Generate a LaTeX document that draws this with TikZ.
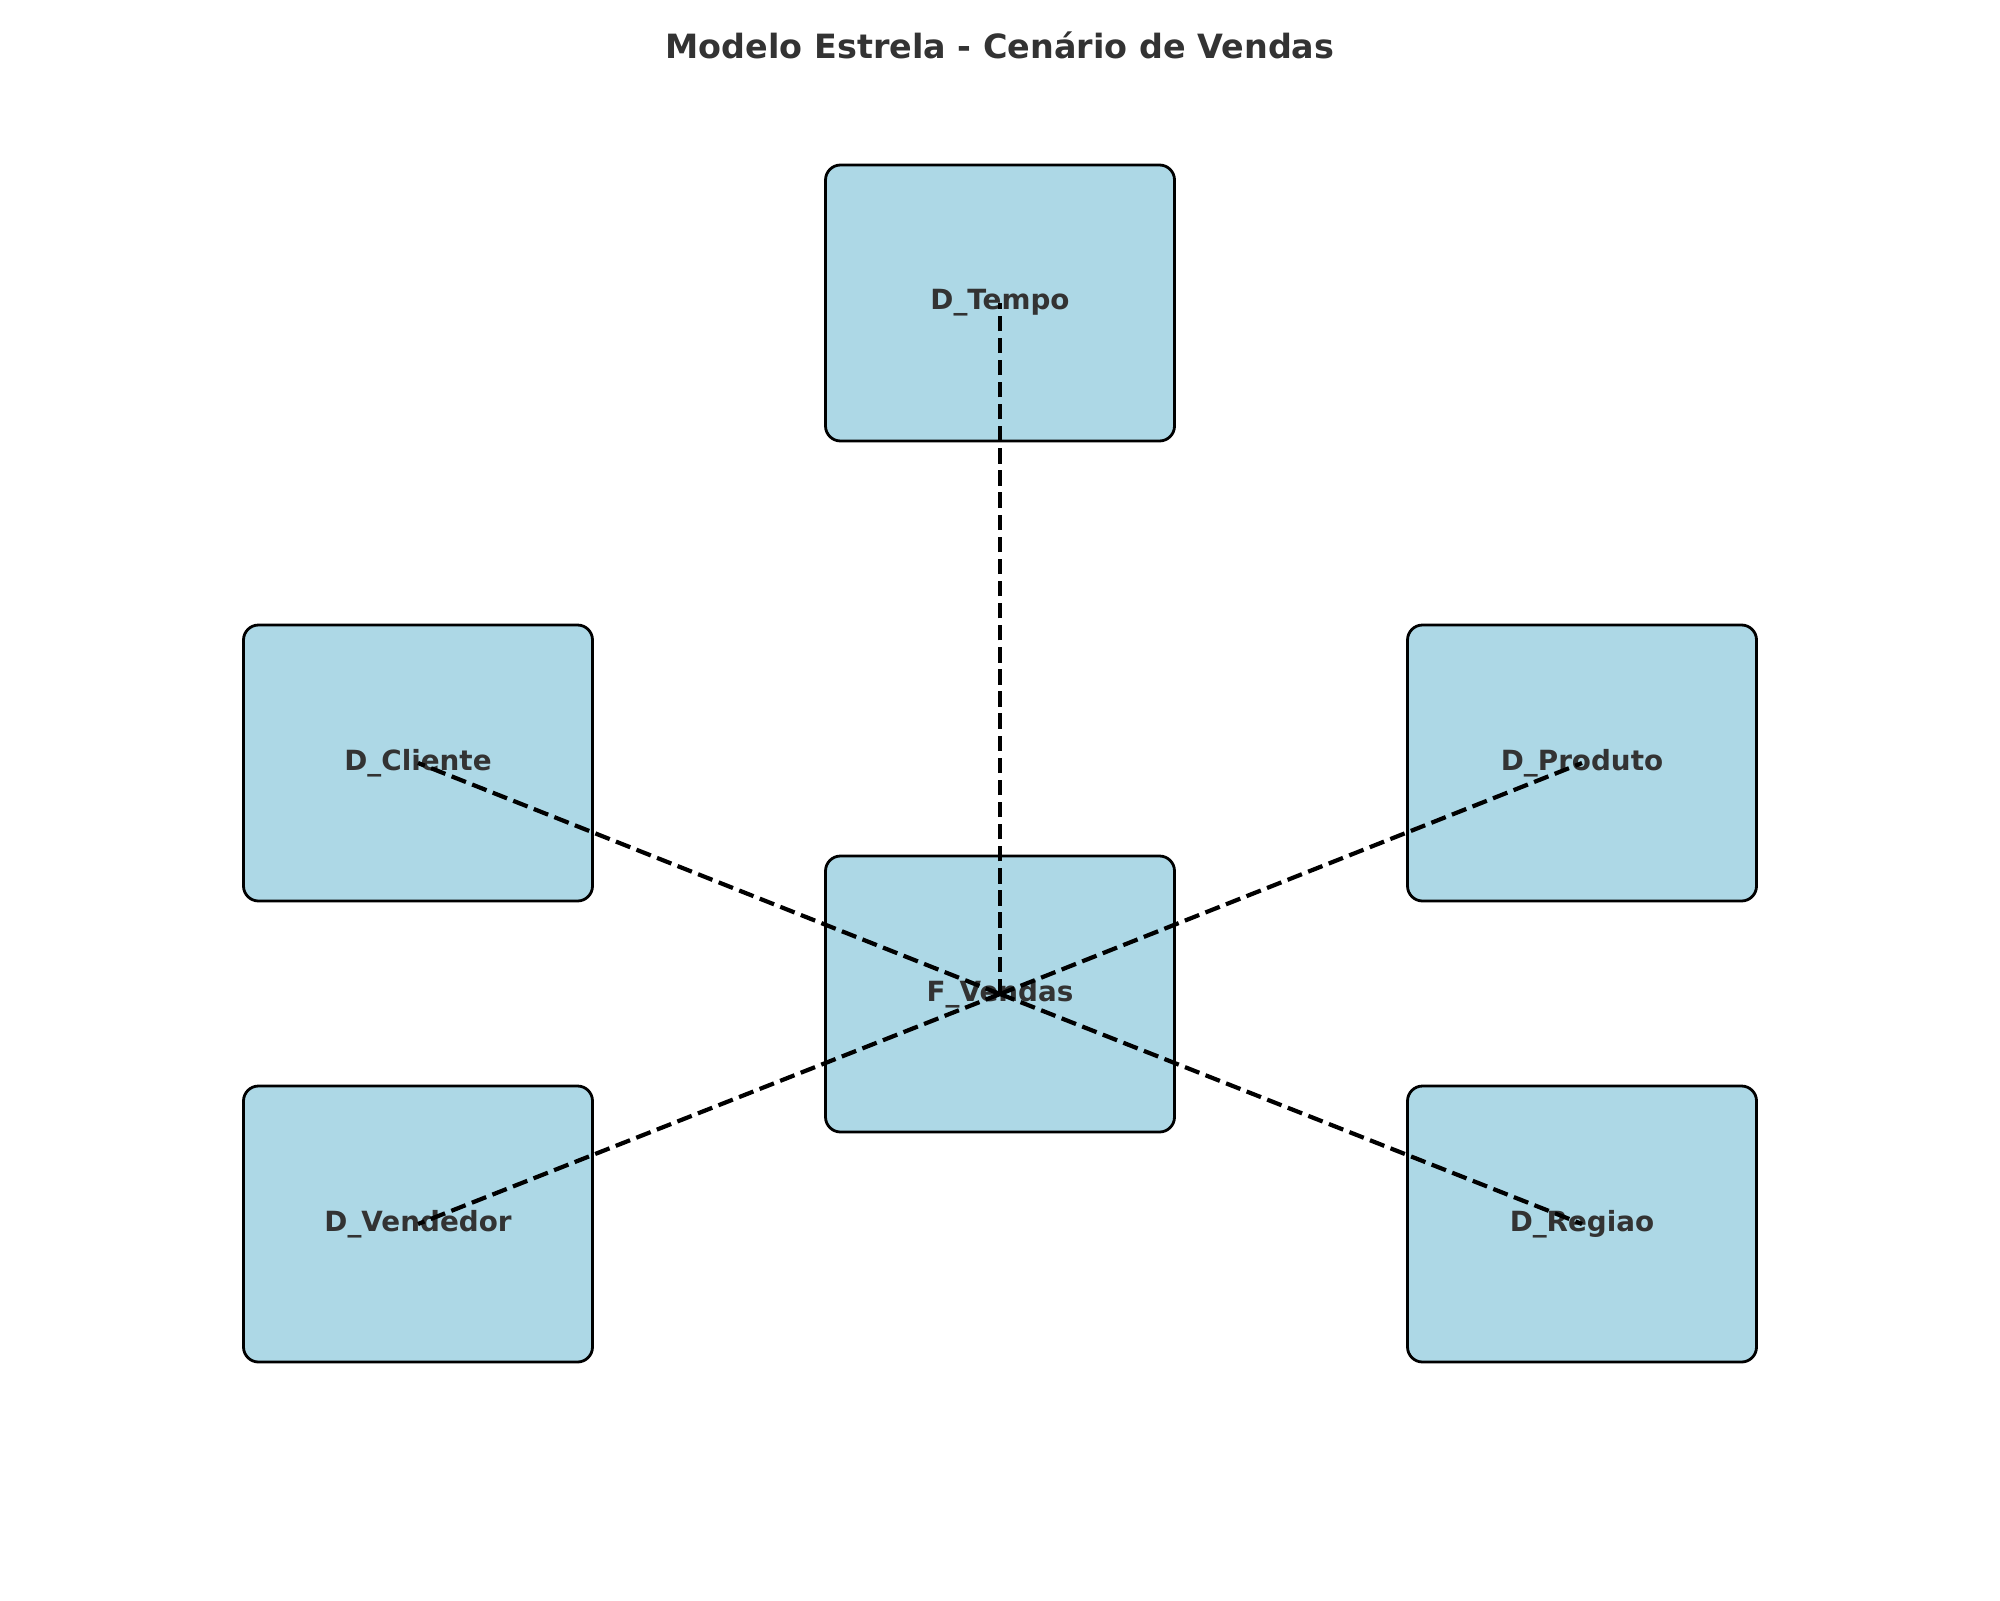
\documentclass[tikz,border=0pt]{standalone}
\usepackage{fontspec}
\setmainfont{DejaVu Sans}
\definecolor{boxfill}{HTML}{ADD8E6}
\definecolor{txt}{HTML}{333333}
\tikzset{
  tabbox/.style={draw=black, fill=boxfill, line width=1.4pt, rounded corners=7.5pt,
    minimum width=174.5pt, minimum height=138pt, inner sep=0pt,
    text=txt, font=\fontsize{13.9pt}{16pt}\selectfont\bfseries},
  link/.style={draw=black, line width=2.1pt, dash pattern=on 7.7pt off 3.35pt},
  ttl/.style={text=txt, font=\fontsize{16.7pt}{19pt}\selectfont\bfseries}
}
\begin{document}
\begin{tikzpicture}[x=0.5pt,y=-0.5pt]
\useasboundingbox (0,0) rectangle (2000,1600);
\node[ttl] (title) at (1000,45) {Modelo Estrela - Cenário de Vendas};
\node[tabbox] (tempo) at (1000,303) {D\_Tempo};
\node[tabbox] (cliente) at (418,763) {D\_Cliente};
\node[tabbox] (produto) at (1582,763) {D\_Produto};
\node[tabbox] (fvendas) at (1000,994) {F\_Vendas};
\node[tabbox] (vendedor) at (418,1224) {D\_Vendedor};
\node[tabbox] (regiao) at (1582,1224) {D\_Regiao};
\draw[link] (fvendas.center) -- (tempo.center);
\draw[link] (fvendas.center) -- (cliente.center);
\draw[link] (fvendas.center) -- (produto.center);
\draw[link] (fvendas.center) -- (vendedor.center);
\draw[link] (fvendas.center) -- (regiao.center);
\end{tikzpicture}
\end{document}
